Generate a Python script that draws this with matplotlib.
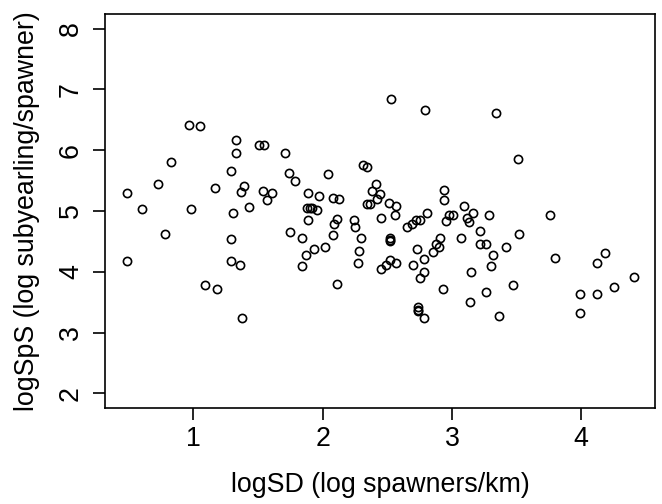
import matplotlib
matplotlib.use("Agg")
from matplotlib import pyplot as plt

# log spawner density (x) and log subyearlings per spawner (y)
log_sd = [
    0.49, 0.49, 0.60, 0.73, 0.78, 0.83, 0.97, 1.05, 0.98, 1.09,
    1.18, 1.17, 1.33, 1.33, 1.29, 1.37, 1.39, 1.31, 1.43, 1.29,
    1.29, 1.36, 1.38, 1.51, 1.55, 1.54, 1.57, 1.61, 1.71, 1.74,
    1.79, 1.75, 1.84, 1.84, 1.87, 1.89, 1.88, 1.90, 1.92, 1.96,
    1.89, 1.93, 1.97, 2.04, 2.02, 2.08, 2.13, 2.11, 2.09, 2.08,
    2.11, 2.24, 2.25, 2.30, 2.28, 2.27, 2.31, 2.34, 2.34, 2.37,
    2.41, 2.38, 2.44, 2.42, 2.45, 2.45, 2.49, 2.52, 2.52, 2.52,
    2.52, 2.53, 2.51, 2.57, 2.56, 2.57, 2.65, 2.69, 2.72, 2.75,
    2.81, 2.70, 2.73, 2.78, 2.78, 2.75, 2.74, 2.74, 2.74, 2.78,
    2.79, 2.85, 2.88, 2.90, 2.91, 2.93, 2.94, 2.94, 2.95, 2.98,
    3.01, 3.07, 3.09, 3.12, 3.13, 3.16, 3.15, 3.14, 3.22, 3.22,
    3.26, 3.29, 3.32, 3.30, 3.26, 3.36, 3.34, 3.42, 3.47, 3.51,
    3.52, 3.76, 3.80, 3.99, 3.99, 4.12, 4.12, 4.18, 4.25, 4.41,
]
log_sps = [
    5.30, 4.17, 5.04, 5.44, 4.62, 5.81, 6.42, 6.39, 5.04, 3.78,
    3.72, 5.38, 6.17, 5.95, 5.66, 5.32, 5.41, 4.96, 5.07, 4.54,
    4.17, 4.12, 3.24, 6.09, 6.09, 5.33, 5.18, 5.30, 5.95, 5.62,
    5.50, 4.66, 4.56, 4.09, 4.28, 5.30, 5.05, 5.05, 5.05, 5.01,
    4.85, 4.37, 5.24, 5.61, 4.40, 5.22, 5.19, 4.87, 4.78, 4.60,
    3.80, 4.85, 4.73, 4.56, 4.34, 4.14, 5.76, 5.73, 5.11, 5.11,
    5.44, 5.33, 5.28, 5.19, 4.89, 4.05, 4.11, 4.19, 4.50, 4.53,
    4.56, 6.85, 5.13, 5.08, 4.93, 4.14, 4.74, 4.79, 4.85, 4.85,
    4.96, 4.12, 4.37, 4.21, 4.00, 3.89, 3.42, 3.38, 3.35, 3.24,
    6.66, 4.33, 4.45, 4.40, 4.56, 3.72, 5.35, 5.18, 4.83, 4.93,
    4.93, 4.56, 5.08, 4.88, 4.82, 4.96, 4.00, 3.50, 4.67, 4.45,
    4.45, 4.93, 4.28, 4.09, 3.66, 3.27, 6.62, 4.40, 3.78, 5.86,
    4.62, 4.93, 4.23, 3.63, 3.33, 3.63, 4.14, 4.31, 3.75, 3.92,
]

plt.rcParams["font.family"] = ["Liberation Sans", "DejaVu Sans"]

fig = plt.figure(figsize=(6.62, 5.04), dpi=100)
ax = fig.add_axes([105 / 662, 1 - 408 / 504, 550 / 662, 394 / 504])

ax.plot(log_sd, log_sps, linestyle="none", marker="o", markersize=5.9,
        markerfacecolor="none", markeredgecolor="black", markeredgewidth=1.2)

ax.set_xlim(0.317, 4.570)
ax.set_ylim(1.76, 8.24)
ax.set_xticks([1, 2, 3, 4])
ax.set_yticks([2, 3, 4, 5, 6, 7, 8])

for s in ax.spines.values():
    s.set_linewidth(1.2)

ax.tick_params(direction="out", length=8.3, width=1.2, labelsize=19.3)
ax.tick_params(axis="x", pad=5)
ax.tick_params(axis="y", pad=6.8)
for lab in ax.get_yticklabels():
    lab.set_rotation(90)
    lab.set_verticalalignment("center")

ax.set_xlabel("logSD (log spawners/km)", fontsize=19.3, labelpad=14)
ax.set_ylabel("logSpS (log subyearling/spawner)", fontsize=19.3, labelpad=13)

fig.savefig("out.png", dpi=100)
